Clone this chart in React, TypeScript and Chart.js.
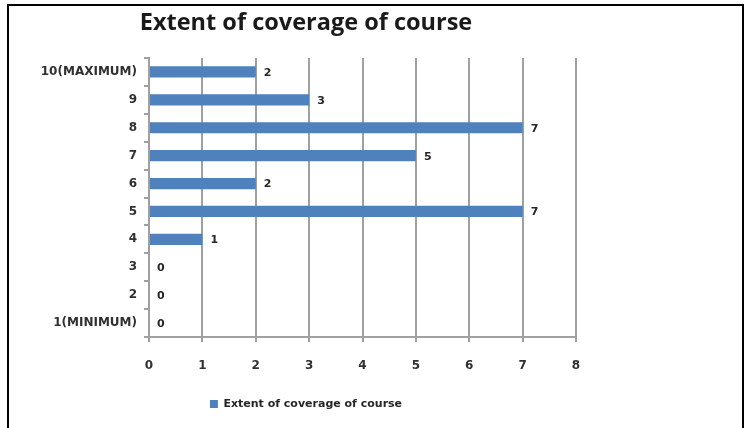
import React, { useEffect, useRef } from "react";
import { Chart, registerables } from "chart.js";

Chart.register(...registerables);

const titleText = "Extent of coverage of course";
const seriesName = "Extent of coverage of course";
const categories = ["1(MINIMUM)", "2", "3", "4", "5", "6", "7", "8", "9", "10(MAXIMUM)"];
const values = [0, 0, 0, 1, 7, 2, 5, 7, 3, 2];
const xMin = 0;
const xMax = 8;
const xStep = 1;

const barColor = "#4F81BD";
const gridColor = "#a0a0a0";
const textColor = "#303030";
const tickFont = { family: "'DejaVu Sans', sans-serif", size: 12, weight: "bold" as const };

const valueLabels = {
  id: "valueLabels",
  afterDatasetsDraw(chart: any) {
    const ctx = chart.ctx;
    const meta = chart.getDatasetMeta(0);
    const data = chart.data.datasets[0].data;
    ctx.save();
    ctx.font = "bold 11px 'DejaVu Sans', sans-serif";
    ctx.fillStyle = "#262626";
    ctx.textAlign = "left";
    ctx.textBaseline = "middle";
    meta.data.forEach((bar: any, i: number) => {
      ctx.fillText(String(data[i]), bar.x + 8, bar.y + 1);
    });
    ctx.restore();
  },
};

export default function App() {
  const canvasRef = useRef<HTMLCanvasElement | null>(null);

  useEffect(() => {
    if (!canvasRef.current) return;
    const chart = new Chart(canvasRef.current, {
      type: "bar",
      data: {
        labels: categories,
        datasets: [
          {
            label: seriesName,
            data: values,
            backgroundColor: barColor,
            borderWidth: 0,
            barPercentage: 0.4,
            categoryPercentage: 1,
          },
        ],
      },
      plugins: [valueLabels],
      options: {
        indexAxis: "y",
        responsive: false,
        animation: false,
        layout: { padding: { left: 0, right: 10, top: 0, bottom: 8.5 } },
        scales: {
          x: {
            type: "linear",
            min: xMin,
            max: xMax,
            ticks: { stepSize: xStep, font: tickFont, color: textColor, padding: 17 },
            grid: { color: gridColor, lineWidth: 2, tickLength: 5, drawTicks: true },
            border: { color: gridColor, width: 2 },
            afterFit: (s: any) => {
              s.height = 51.5;
              s.paddingLeft = 0;
              s.paddingRight = 0;
            },
          },
          y: {
            type: "category",
            reverse: true,
            ticks: { font: tickFont, color: textColor, padding: 7, autoSkip: false },
            grid: { color: gridColor, lineWidth: 2, tickLength: 5, drawOnChartArea: false, offset: true },
            border: { color: gridColor, width: 2 },
            afterFit: (s: any) => {
              s.width = 113;
              s.paddingTop = 0;
              s.paddingBottom = 0;
            },
          },
        },
        plugins: {
          title: {
            display: true,
            text: titleText,
            color: "#1a1a1a",
            font: { family: "'Open Sans', sans-serif", size: 23.5, weight: "bold", lineHeight: 1.2 },
            padding: { top: 9, bottom: 20.8 },
          },
          legend: {
            display: true,
            position: "bottom",
            labels: {
              boxWidth: 8,
              boxHeight: 8,
              padding: 10,
              color: "#262626",
              font: { family: "'DejaVu Sans', sans-serif", size: 11, weight: "bold" },
            },
          },
          tooltip: { enabled: false },
        },
      },
    });
    return () => chart.destroy();
  }, []);

  return (
    <div
      style={{
        position: "fixed",
        left: 0,
        top: 0,
        width: 750,
        height: 428,
        background: "#ffffff",
        overflow: "hidden",
      }}
    >
      <div
        style={{
          position: "absolute",
          left: 7,
          top: 4,
          width: 733,
          height: 440,
          border: "2px solid #000",
          borderBottom: "none",
        }}
      />
      <canvas
        ref={canvasRef}
        width={550}
        height={428}
        style={{ position: "absolute", left: 36, top: 0 }}
      />
    </div>
  );
}
